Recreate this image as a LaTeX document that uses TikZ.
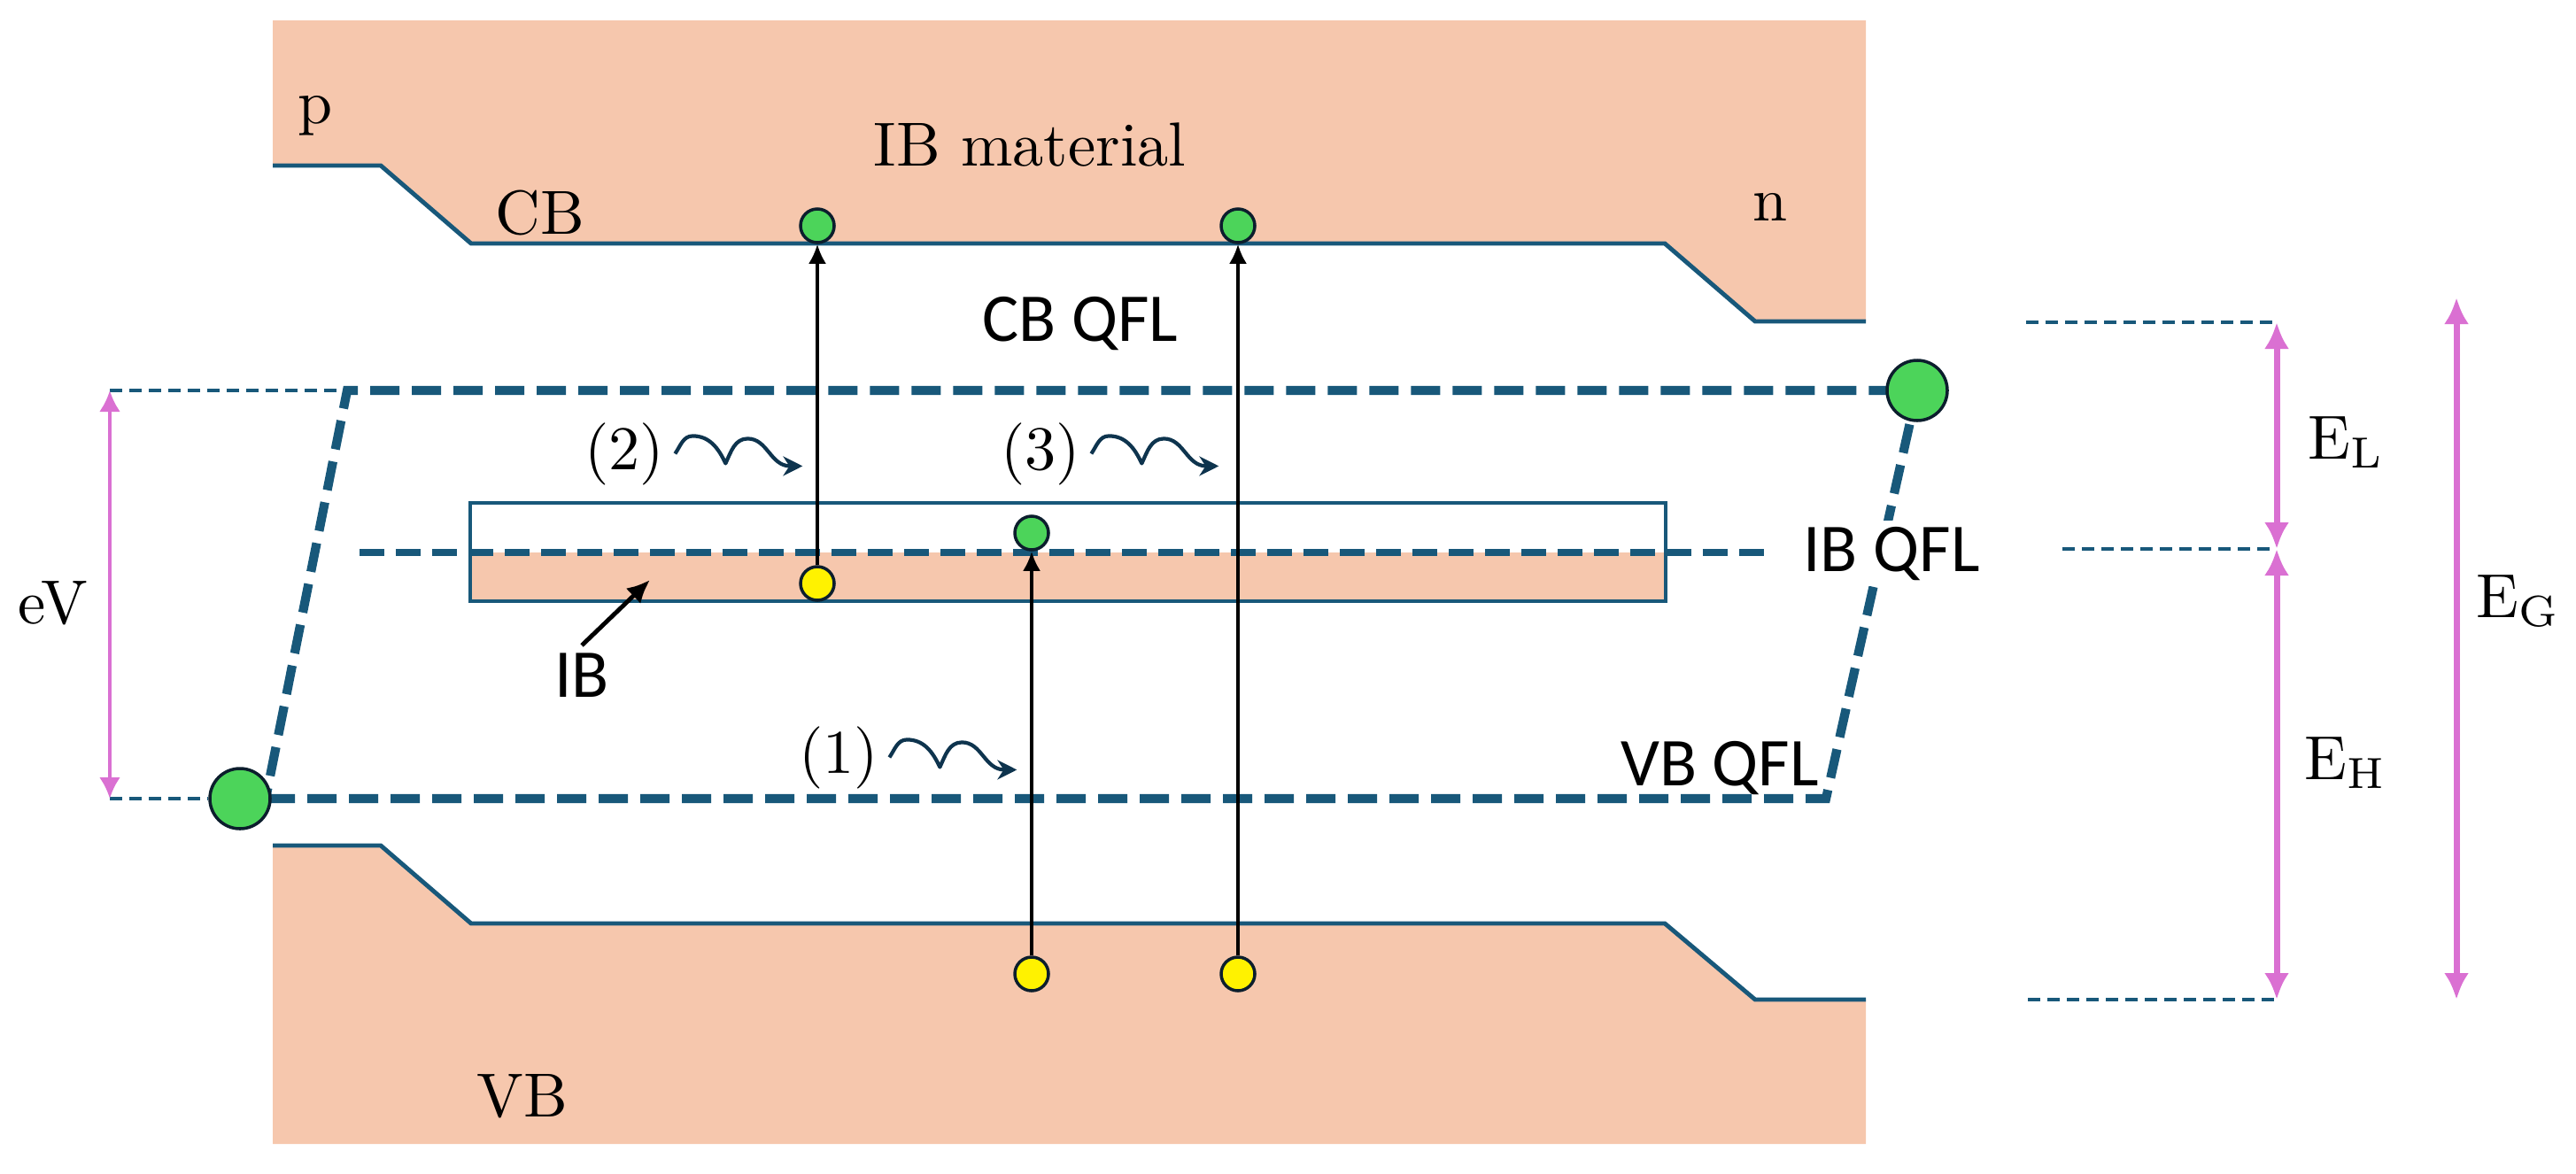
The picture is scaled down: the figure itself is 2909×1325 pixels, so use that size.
\documentclass[tikz,border=0pt]{standalone}
\usepackage{fontspec}
\usepackage{tikz}
\usetikzlibrary{calc,arrows.meta,positioning}
\newfontfamily\qflfont{Carlito}
\definecolor{bandblue}{RGB}{24,88,122}
\definecolor{peach}{RGB}{246,199,173}
\definecolor{egreen}{RGB}{76,212,90}
\definecolor{gappink}{RGB}{218,112,210}
\definecolor{wavenavy}{RGB}{14,52,78}
\definecolor{rim}{RGB}{12,30,45}

\begin{document}
\begin{tikzpicture}[x=0.05mm, y=0.05mm,
        band/.style={draw=bandblue, line width=0.7pt},
        qfl/.style={draw=bandblue, line width=1.45pt, dash pattern=on 1.65mm off 0.7mm},
        ibqfl/.style={draw=bandblue, line width=1.15pt, dash pattern=on 1.4mm off 0.65mm},
        guide/.style={draw=bandblue, line width=0.6pt, dash pattern=on 0.7mm off 0.4mm},
        electron/.style={circle, draw=rim, line width=0.5pt, fill=egreen, inner sep=0pt, minimum size=1.9mm},
        bigelectron/.style={electron, minimum size=3.4mm},
        hole/.style={electron, fill=yellow},
        excite/.style={draw=black, line width=0.5pt, -{Latex[length=1.1mm,width=1mm]}},
        pointer/.style={draw=black, line width=0.7pt, -{Latex[length=1.3mm,width=1.2mm]}},
        wave/.style={draw=wavenavy, line width=0.6pt, line join=round, -{Stealth[length=1.1mm,width=1.1mm]}},
        gap/.style={draw=gappink, line width=1pt, arrows={Latex[length=1.5mm,width=1.4mm]-Latex[length=1.5mm,width=1.4mm]}},
        gapthin/.style={draw=gappink, line width=0.6pt, arrows={Latex[length=1.2mm,width=1.2mm]-Latex[length=1.2mm,width=1.2mm]}},
        lbl/.style={inner sep=1pt, font=\fontsize{10}{12}\selectfont},
        sanslbl/.style={inner sep=1pt, font=\qflfont\fontsize{11}{13}\selectfont}]

    \useasboundingbox (0,0) rectangle (2909,1325);

    % bands
    \fill[peach] (308,1302) -- (2107,1302) -- (2107,962) -- (1982,962) -- (1880,1050)
                 -- (532,1050) -- (430,1138) -- (308,1138) -- cycle;
    \draw[band] (308,1138) -- (430,1138) -- (532,1050) -- (1880,1050) -- (1982,962) -- (2107,962);
    \fill[peach] (308,370) -- (430,370) -- (532,282) -- (1880,282) -- (1982,196)
                 -- (2107,196) -- (2107,33) -- (308,33) -- cycle;
    \draw[band] (308,370) -- (430,370) -- (532,282) -- (1880,282) -- (1982,196) -- (2107,196);

    % intermediate band
    \fill[peach] (531,646) rectangle (1881,701);
    \draw[draw=bandblue, line width=0.45pt] (531,646) rectangle (1881,757);
    \coordinate (ibqL) at (406,701);
    \coordinate (ibqR) at (1995,701);
    \draw[ibqfl] (ibqL) -- (ibqR);

    % quasi Fermi levels
    \coordinate (vbl) at (300,423);
    \coordinate (vbr) at (2062,423);
    \coordinate (cbr) at (2165,884);
    \coordinate (cbl) at (392,884);
    \draw[qfl] (vbl) -- (vbr) -- (cbr) -- (cbl) -- cycle;

    % carriers
    \node[bigelectron] (LD) at (271,423) {};
    \node[bigelectron] (RD) at (cbr) {};
    \node[electron] (c1) at (923,1070) {};
    \node[electron] (c2) at (1398,1070) {};
    \node[hole] (i1) at (923,666) {};
    \node[electron] (i2) at (1165,723) {};
    \node[hole] (v1) at (1165,225) {};
    \node[hole] (v2) at (1398,225) {};

    \draw[excite] (i1) -- (c1);
    \draw[excite] (v1) -- (i2);
    \draw[excite] (v2) -- (c2);

    % labels
    \node[lbl, anchor=base] (p) at (356,1186) {p};
    \node[lbl, anchor=base] (mat) at (1163,1138) {IB material};
    \node[lbl, anchor=base] (cb) at (610,1061) {CB};
    \node[lbl, anchor=base] (n) at (1999,1076) {n};
    \node[lbl, anchor=base] (vb) at (590,64) {VB};
    \node[sanslbl, anchor=base] (cbqfl) at (1220,940) {CB QFL};
    \node[sanslbl, anchor=base, fill=white] (ibqfl) at (2136,680) {IB QFL};
    \node[sanslbl, anchor=base] (vbqfl) at (1942,438) {VB QFL};
    \node[sanslbl, anchor=base] (ib) at (657,538) {IB};
    \coordinate (ibtip) at (734,670);
    \draw[pointer] (ib.north) -- (ibtip);

    \node[lbl, anchor=base] (l1) at (947,452) {(1)};
    \node[lbl, anchor=base] (l2) at (705,795) {(2)};
    \node[lbl, anchor=base] (l3) at (1175,795) {(3)};
    \foreach \l in {l1,l2,l3}
        \draw[wave] ([xshift=0.2mm]\l.east) to[out=55,in=180] ++(20,20) to[out=0,in=115] ++(37,-31)
                    to[out=65,in=180] ++(25,28) to[out=0,in=180] ++(48,-31) -- ++(14,0);

    % eV
    \coordinate (evtop) at (124,884);
    \coordinate (evbot) at (124,423);
    \draw[guide] (evtop) -- (cbl);
    \draw[guide] (evbot) -- (LD);
    \draw[gapthin] (evtop) -- (evbot);
    \node[lbl, anchor=base] (ev) at (60,621) {eV};

    % energies
    \coordinate (cbR) at (2288,961);
    \coordinate (ibR) at (2329,705);
    \coordinate (vbR) at (2290,196);
    \coordinate (cbE) at (2571,961);
    \coordinate (ibE) at (2571,705);
    \coordinate (vbE) at (2571,196);
    \coordinate (egtop) at (2774,989);
    \coordinate (egbot) at (2774,196);
    \draw[guide] (cbR) -- (cbE);
    \draw[guide] (ibR) -- (ibE);
    \draw[guide] (vbR) -- (vbE);
    \draw[gap] (cbE) -- (ibE);
    \draw[gap] (ibE) -- (vbE);
    \draw[gap] (egtop) -- (egbot);
    \node[lbl, anchor=base west] (el) at (2598,807) {$\mathrm{E_L}$};
    \node[lbl, anchor=base west] (eh) at (2594,445) {$\mathrm{E_H}$};
    \node[lbl, anchor=base east] (eg) at (2900,628) {$\mathrm{E_G}$};
\end{tikzpicture}
\end{document}
